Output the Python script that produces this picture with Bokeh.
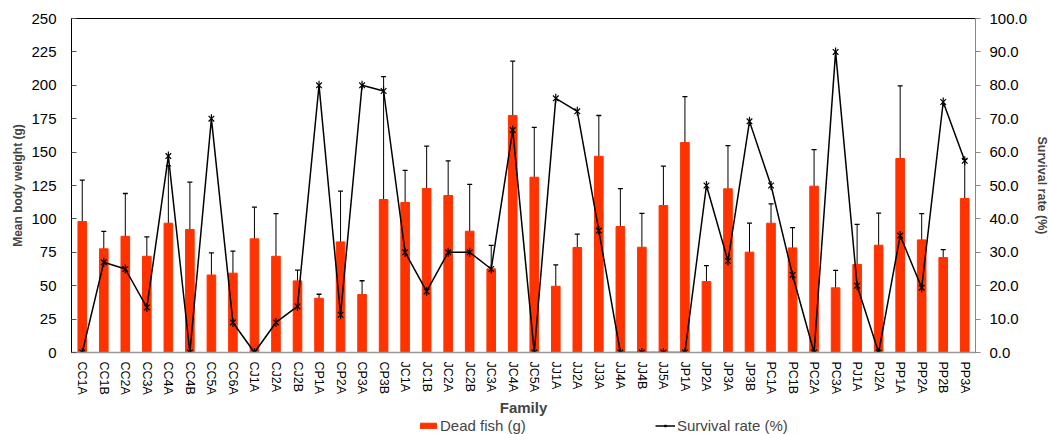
import math
from bokeh.plotting import figure
from bokeh.layouts import column
from bokeh.models import (ColumnDataSource, FactorRange, Range1d, LinearAxis, FixedTicker,
                          NumeralTickFormatter, Whisker, TeeHead, Legend, LegendItem)
from bokeh.embed import file_html
from bokeh.resources import INLINE

families = ["CC1A", "CC1B", "CC2A", "CC3A", "CC4A", "CC4B", "CC5A", "CC6A", "CJ1A", "CJ2A",
            "CJ2B", "CP1A", "CP2A", "CP3A", "CP3B", "JC1A", "JC1B", "JC2A", "JC2B", "JC3A",
            "JC4A", "JC5A", "JJ1A", "JJ2A", "JJ3A", "JJ4A", "JJ4B", "JJ5A", "JP1A", "JP2A",
            "JP3A", "JP3B", "PC1A", "PC1B", "PC2A", "PC3A", "PJ1A", "PJ2A", "PP1A", "PP2A",
            "PP2B", "PP3A"]
dead_fish_weight = [98, 77.6, 87, 72, 96.8, 92, 58, 59.4, 85.1, 72,
                    53.6, 40.6, 82.8, 43.4, 114.5, 112.3, 122.8, 117.5, 90.8, 62.6,
                    177.4, 131.2, 49.6, 78.6, 146.9, 94.3, 78.8, 110, 157.2, 53.1,
                    122.5, 75.1, 96.8, 78.3, 124.5, 48.4, 65.9, 80.3, 145.2, 84.3,
                    71.1, 115.3]
weight_error = [31, 13, 32, 14.5, 43, 35.5, 16.5, 16.5, 23.7, 32,
                8, 3, 38, 10.3, 92, 24, 31.6, 26, 35, 17.6,
                40.7, 37.3, 16, 10, 30.5, 28.3, 25.4, 29.5, 34.3, 12,
                32.3, 21.7, 14.5, 15.2, 27.3, 13, 30, 24, 54.3, 19.7,
                5.9, 29.2]
survival_rate = [0, 27, 25, 13.5, 58.8, 0, 70, 9, 0, 9,
                 13.8, 80, 11.3, 80, 78.3, 30, 18.3, 30, 30, 25,
                 66.6, 0, 76.1, 72.2, 36.5, 0, 0, 0, 0, 50,
                 27.4, 69.2, 50, 23.2, 0, 90, 20, 0, 35, 19.4,
                 75, 57.4]
left_ticks = [0, 25, 50, 75, 100, 125, 150, 175, 200, 225, 250]
right_ticks = [0, 10, 20, 30, 40, 50, 60, 70, 80, 90, 100]
series_names = ["Dead fish (g)", "Survival rate (%)"]

src = ColumnDataSource(dict(
    fam=families, w=dead_fish_weight,
    up=[a + b for a, b in zip(dead_fish_weight, weight_error)],
    lo=[a - b for a, b in zip(dead_fish_weight, weight_error)],
    s=survival_rate))

FONT = "Liberation Sans"
BAR = "#FF3300"

p = figure(x_range=FactorRange(factors=families, range_padding=0), y_range=Range1d(0, 250),
           frame_width=904, frame_height=334, output_backend="svg", toolbar_location=None,
           min_border_left=71, min_border_right=73, min_border_top=18, min_border_bottom=66)
p.extra_y_ranges = {"surv": Range1d(0, 100)}
p.xgrid.grid_line_color = None
p.ygrid.grid_line_color = None
p.outline_line_color = "black"
p.background_fill_color = "white"
p.border_fill_color = "white"

p.vbar(x="fam", top="w", width=0.4, source=src, fill_color=BAR, line_color=BAR)
p.add_layout(Whisker(base="fam", upper="up", lower="lo", source=src, line_color="black", line_width=1,
                     upper_head=TeeHead(size=5, line_color="black", line_width=1.3),
                     lower_head=TeeHead(size=5, line_color="black", line_width=1.3)))
p.line(x="fam", y="s", source=src, y_range_name="surv", line_color="black", line_width=1.5)
p.scatter(x="fam", y="s", source=src, y_range_name="surv", marker="x", size=8,
          line_color="black", line_width=1.2)
p.scatter(x="fam", y="s", source=src, y_range_name="surv", marker="dash", size=9,
          angle=math.pi / 2, line_color="black", line_width=1.2)

# left axis
ya = p.yaxis[0]
ya.ticker = FixedTicker(ticks=left_ticks)
ya.axis_label = "Mean body weight (g)"
ya.axis_line_color = "black"
ya.major_tick_in = 5
ya.major_tick_out = 0
ya.major_tick_line_color = "#555555"
ya.minor_tick_line_color = None
ya.major_label_text_font = FONT
ya.major_label_text_font_size = "15px"
ya.major_label_text_color = "black"
ya.axis_label_text_font = FONT
ya.axis_label_text_font_style = "bold"
ya.axis_label_text_font_size = "12px"
ya.axis_label_standoff = 3
ya.major_label_standoff = 15

# right axis
ra = LinearAxis(y_range_name="surv", ticker=FixedTicker(ticks=right_ticks),
                formatter=NumeralTickFormatter(format="0.0"))
ra.axis_label = "Survival rate (%)"
ra.axis_line_color = "#888888"
ra.major_tick_in = 0
ra.major_tick_out = 5
ra.major_tick_line_color = "#888888"
ra.minor_tick_line_color = None
ra.major_label_text_font = FONT
ra.major_label_text_font_size = "15px"
ra.major_label_text_color = "black"
ra.axis_label_text_font = FONT
ra.axis_label_text_font_style = "bold"
ra.axis_label_text_font_size = "12.5px"
ra.axis_label_standoff = 5
ra.major_label_standoff = 9
p.add_layout(ra, "right")

# x axis
xa = p.xaxis[0]
xa.axis_label = "Family"
xa.axis_line_color = "#999999"
xa.axis_line_width = 1.5
xa.major_tick_line_color = None
xa.minor_tick_line_color = None
xa.major_tick_in = 0
xa.major_tick_out = 0
xa.major_label_orientation = "vertical"
xa.major_label_text_font = FONT
xa.major_label_text_font_size = "12.5px"
xa.major_label_text_color = "black"
xa.major_label_standoff = 9
xa.axis_label_text_font = FONT
xa.axis_label_text_font_style = "bold"
xa.axis_label_text_font_size = "15px"
xa.axis_label_standoff = 1
xa.axis_label_align = "center"

# legend strip below the chart (its glyph sources sit outside the visible range)
lg = figure(width=1048, height=16, x_range=Range1d(0, 1), y_range=Range1d(0, 1),
            output_backend="svg", toolbar_location=None, min_border=0,
            x_axis_type=None, y_axis_type=None)
lg.outline_line_color = None
lg.xgrid.visible = False
lg.ygrid.visible = False
offscreen = ColumnDataSource(dict(x=[-5, -6], y=[-5, -5]))
r_bar = lg.vbar(x="x", top="y", width=0.4, source=offscreen, fill_color=BAR, line_color=BAR)
r_ln = lg.line(x="x", y="y", source=offscreen, line_color="black", line_width=1.5)
r_sx = lg.scatter(x="x", y="y", source=offscreen, marker="x", size=8, line_color="black", line_width=1.2)
r_sd = lg.scatter(x="x", y="y", source=offscreen, marker="dash", size=9, angle=math.pi / 2,
                  line_color="black", line_width=1.2)
legend = Legend(items=[LegendItem(label=series_names[0], renderers=[r_bar]),
                       LegendItem(label=series_names[1], renderers=[r_ln, r_sx, r_sd])],
                orientation="horizontal", location=(347, 0), spacing=129,
                glyph_width=20, glyph_height=7, label_text_font=FONT, label_text_font_size="15px",
                label_standoff=2, padding=0, margin=0, border_line_color=None,
                background_fill_alpha=0, label_height=16)
lg.add_layout(legend, "center")

layout = column(p, lg, spacing=0)
open("out.html", "w").write(file_html(layout, INLINE))
